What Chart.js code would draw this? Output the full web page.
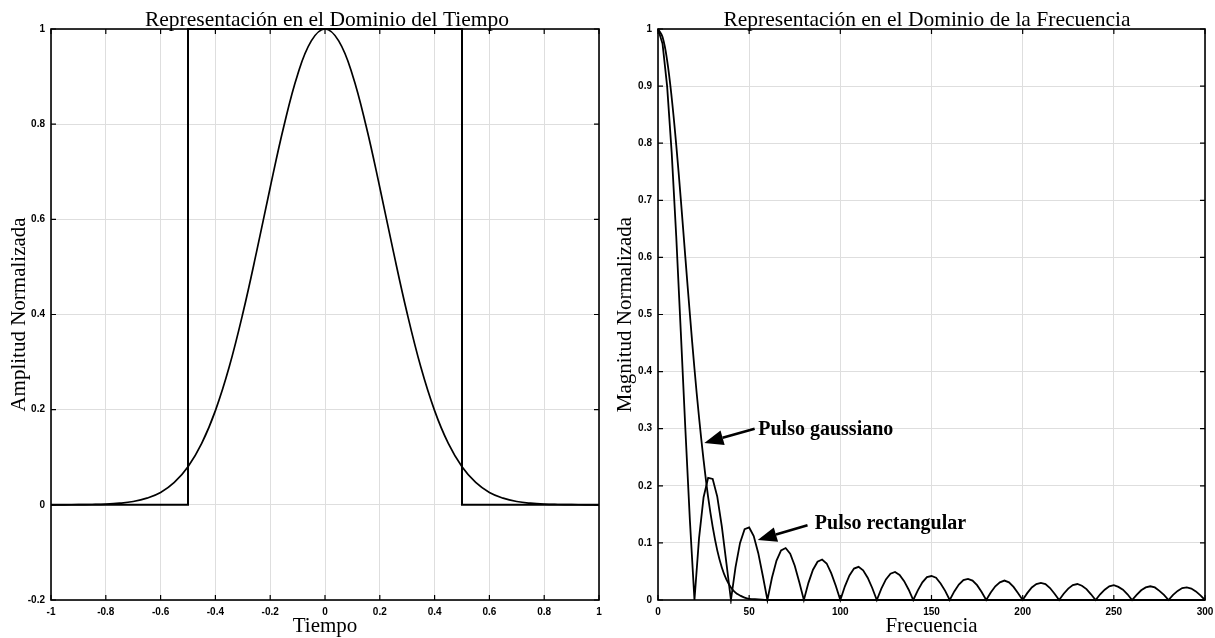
<!DOCTYPE html>
<html>
<head>
<meta charset="utf-8">
<script src="https://cdn.jsdelivr.net/npm/chart.js@4.4.1/dist/chart.umd.min.js"></script>
<style>
  body { margin: 0; background: #fff; width: 1215px; height: 638px; overflow: hidden; position: relative; }
  canvas { position: absolute; top: 0; }
  #tiempo { left: 0; }
  #frecuencia { left: 607px; }
</style>
</head>
<body>
<canvas id="tiempo" width="607" height="638"></canvas>
<canvas id="frecuencia" width="608" height="638"></canvas>
<script>
// Dominio del tiempo
const tRect = [-1, -0.5, -0.5, 0.5, 0.5, 1];
const ampRect = [0, 0, 1, 1, 0, 0];
const tGauss = [-1, -0.95, -0.9, -0.85, -0.8, -0.75, -0.7, -0.65, -0.6, -0.55, -0.5, -0.45, -0.4, -0.35, -0.3, -0.25, -0.2, -0.15, -0.1, -0.05,
  0, 0.05, 0.1, 0.15, 0.2, 0.25, 0.3, 0.35, 0.4, 0.45, 0.5, 0.55, 0.6, 0.65, 0.7, 0.75, 0.8, 0.85, 0.9, 0.95, 1];
const ampGauss = [0, 0.0001, 0.0003, 0.0007, 0.0015, 0.0034, 0.007, 0.014, 0.026, 0.047, 0.08, 0.129, 0.198, 0.289, 0.402, 0.531, 0.667, 0.796, 0.904, 0.975,
  1, 0.975, 0.904, 0.796, 0.667, 0.531, 0.402, 0.289, 0.198, 0.129, 0.08, 0.047, 0.026, 0.014, 0.007, 0.0034, 0.0015, 0.0007, 0.0003, 0.0001, 0];

// Dominio de la frecuencia
const fRect = [0, 2.5, 5, 7.5, 10, 12.5, 15, 17.5, 20, 22.5, 25, 27.5, 30, 32.5, 35, 37.5, 40, 42.5, 45, 47.5, 50, 52.5, 55, 57.5,
  60, 62.5, 65, 67.5, 70, 72.5, 75, 77.5, 80, 82.5, 85, 87.5, 90, 92.5, 95, 97.5, 100, 102.5, 105, 107.5, 110, 112.5, 115, 117.5,
  120, 122.5, 125, 127.5, 130, 132.5, 135, 137.5, 140, 142.5, 145, 147.5, 150, 152.5, 155, 157.5, 160, 162.5, 165, 167.5, 170, 172.5, 175, 177.5,
  180, 182.5, 185, 187.5, 190, 192.5, 195, 197.5, 200, 202.5, 205, 207.5, 210, 212.5, 215, 217.5, 220, 222.5, 225, 227.5, 230, 232.5, 235, 237.5,
  240, 242.5, 245, 247.5, 250, 252.5, 255, 257.5, 260, 262.5, 265, 267.5, 270, 272.5, 275, 277.5, 280, 282.5, 285, 287.5, 290, 292.5, 295, 297.5, 300];
const magRect = [1, 0.974, 0.9, 0.784, 0.637, 0.47, 0.3, 0.139,
  0, 0.108, 0.18, 0.214, 0.212, 0.181, 0.129, 0.065,
  0, 0.057, 0.1, 0.124, 0.127, 0.112, 0.082, 0.042,
  0, 0.039, 0.069, 0.087, 0.091, 0.081, 0.06, 0.031,
  0, 0.03, 0.053, 0.067, 0.071, 0.064, 0.047, 0.025,
  0, 0.024, 0.043, 0.055, 0.058, 0.052, 0.039, 0.021,
  0, 0.02, 0.036, 0.046, 0.049, 0.044, 0.033, 0.018,
  0, 0.017, 0.031, 0.04, 0.042, 0.039, 0.029, 0.016,
  0, 0.015, 0.027, 0.035, 0.037, 0.034, 0.026, 0.014,
  0, 0.013, 0.024, 0.031, 0.034, 0.031, 0.023, 0.012,
  0, 0.012, 0.022, 0.028, 0.03, 0.028, 0.021, 0.011,
  0, 0.011, 0.02, 0.026, 0.028, 0.025, 0.019, 0.01,
  0, 0.01, 0.018, 0.024, 0.026, 0.023, 0.018, 0.01,
  0, 0.009, 0.017, 0.022, 0.024, 0.022, 0.016, 0.009,
  0, 0.009, 0.016, 0.021, 0.022, 0.02, 0.015, 0.008,
  0];
const fGauss = [0, 2.5, 5, 7.5, 10, 12.5, 15, 17.5, 20, 22.5, 25, 27.5, 30, 32.5, 35, 37.5, 40, 42.5, 45, 47.5, 50, 55, 60, 300];
const magGauss = [1, 0.986, 0.945, 0.88, 0.797, 0.702, 0.6, 0.5, 0.405, 0.32, 0.245, 0.18, 0.128, 0.087, 0.057, 0.036, 0.022, 0.013, 0.008, 0.004, 0.002, 0.001, 0, 0];

// Marcas de los ejes
const ticksT = [-1, -0.8, -0.6, -0.4, -0.2, 0, 0.2, 0.4, 0.6, 0.8, 1];
const etiquetasT = ['-1', '-0.8', '-0.6', '-0.4', '-0.2', '0', '0.2', '0.4', '0.6', '0.8', '1'];
const ticksAmp = [-0.2, 0, 0.2, 0.4, 0.6, 0.8, 1];
const etiquetasAmp = ['-0.2', '0', '0.2', '0.4', '0.6', '0.8', '1'];
const ticksF = [0, 50, 100, 150, 200, 250, 300];
const etiquetasF = ['0', '50', '100', '150', '200', '250', '300'];
const ticksMag = [0, 0.1, 0.2, 0.3, 0.4, 0.5, 0.6, 0.7, 0.8, 0.9, 1];
const etiquetasMag = ['0', '0.1', '0.2', '0.3', '0.4', '0.5', '0.6', '0.7', '0.8', '0.9', '1'];

const serif = "'Liberation Serif', 'Times New Roman', serif";
const sans = "'Liberation Sans', Arial, sans-serif";

const puntos = (xs, ys) => xs.map((x, i) => ({ x, y: ys[i] }));

// caja negra con marcas hacia adentro (estilo MATLAB)
const marco = {
  id: 'marco',
  afterDatasetsDraw(chart) {
    const { ctx, chartArea: a, scales: { x, y } } = chart;
    ctx.save();
    ctx.strokeStyle = '#000';
    ctx.lineWidth = 1.2;
    ctx.beginPath();
    x.ticks.forEach(t => {
      const px = x.getPixelForValue(t.value);
      ctx.moveTo(px, a.bottom); ctx.lineTo(px, a.bottom - 5);
      ctx.moveTo(px, a.top); ctx.lineTo(px, a.top + 5);
    });
    y.ticks.forEach(t => {
      const py = y.getPixelForValue(t.value);
      ctx.moveTo(a.left, py); ctx.lineTo(a.left + 5, py);
      ctx.moveTo(a.right, py); ctx.lineTo(a.right - 5, py);
    });
    ctx.stroke();
    ctx.lineWidth = 1.6;
    ctx.strokeRect(a.left, a.top, a.right - a.left, a.bottom - a.top);
    ctx.restore();
  }
};

// titulo y flechas con texto
const rotulos = {
  id: 'rotulos',
  afterDraw(chart, args, opts) {
    const { ctx, scales: { x, y } } = chart;
    ctx.save();
    ctx.fillStyle = '#000';
    ctx.font = '21.5px ' + serif;
    ctx.textAlign = 'center';
    ctx.textBaseline = 'alphabetic';
    ctx.fillText(opts.titulo, opts.tituloX, 26);
    (opts.flechas || []).forEach(f => {
      const x0 = x.getPixelForValue(f.desde[0]), y0 = y.getPixelForValue(f.desde[1]);
      const x1 = x.getPixelForValue(f.hasta[0]), y1 = y.getPixelForValue(f.hasta[1]);
      const ang = Math.atan2(y1 - y0, x1 - x0);
      const largo = 19, ancho = 7.5;
      const bx = x1 - largo * Math.cos(ang), by = y1 - largo * Math.sin(ang);
      ctx.strokeStyle = '#000';
      ctx.lineWidth = 2.6;
      ctx.beginPath(); ctx.moveTo(x0, y0); ctx.lineTo(bx, by); ctx.stroke();
      ctx.beginPath();
      ctx.moveTo(x1, y1);
      ctx.lineTo(bx + ancho * Math.sin(ang), by - ancho * Math.cos(ang));
      ctx.lineTo(bx - ancho * Math.sin(ang), by + ancho * Math.cos(ang));
      ctx.closePath(); ctx.fill();
      ctx.font = 'bold 20px ' + serif;
      ctx.textAlign = 'left';
      ctx.fillText(f.texto, x.getPixelForValue(f.pos[0]), y.getPixelForValue(f.pos[1]));
    });
    ctx.restore();
  }
};

function eje(ticks, etiquetas, min, max, titulo, vertical, tituloPad) {
  return {
    type: 'linear',
    min, max,
    afterBuildTicks: s => { s.ticks = ticks.map(v => ({ value: v })); },
    afterFit: s => {
      if (vertical) {
        s.width = 51;
      } else {
        s.height = 38;
        // sin margen extra por las etiquetas de los extremos
        s.paddingLeft = 0;
        s.paddingRight = 0;
      }
    },
    grid: { color: '#dedede', lineWidth: 1, drawTicks: false },
    border: { display: false },
    ticks: {
      callback: (v, i) => etiquetas[i],
      color: '#000',
      font: { family: sans, size: 10, weight: 'bold' },
      padding: 6,
      maxRotation: 0,
      autoSkip: false
    },
    title: {
      display: true,
      text: titulo,
      color: '#000',
      font: { family: serif, size: 21, lineHeight: 1.1 },
      padding: vertical ? { top: tituloPad, bottom: 0 } : { top: 0, bottom: 0 }
    }
  };
}

function linea(datos, ancho, suave) {
  return {
    data: datos,
    borderColor: '#000',
    borderWidth: ancho,
    pointRadius: 0,
    fill: false,
    tension: suave ? 0.4 : 0,
    clip: 4
  };
}

new Chart(document.querySelector('#tiempo'), {
  type: 'line',
  data: {
    datasets: [
      linea(puntos(tRect, ampRect), 2, false),
      linea(puntos(tGauss, ampGauss), 1.7, true)
    ]
  },
  options: {
    responsive: false,
    animation: false,
    layout: { padding: { left: 0, right: 8, top: 29, bottom: 0 } },
    scales: {
      x: eje(ticksT, etiquetasT, -1, 1, 'Tiempo', false),
      y: eje(ticksAmp, etiquetasAmp, -0.2, 1, 'Amplitud Normalizada', true, 8)
    },
    plugins: {
      legend: { display: false },
      tooltip: { enabled: false },
      rotulos: { titulo: 'Representación en el Dominio del Tiempo', tituloX: 327 }
    }
  },
  plugins: [marco, rotulos]
});

new Chart(document.querySelector('#frecuencia'), {
  type: 'line',
  data: {
    datasets: [
      linea(puntos(fRect, magRect), 1.8, false),
      linea(puntos(fGauss, magGauss), 1.8, true)
    ]
  },
  options: {
    responsive: false,
    animation: false,
    layout: { padding: { left: 0, right: 10, top: 29, bottom: 0 } },
    scales: {
      x: eje(ticksF, etiquetasF, 0, 300, 'Frecuencia', false),
      y: eje(ticksMag, etiquetasMag, 0, 1, 'Magnitud Normalizada', true, 7)
    },
    plugins: {
      legend: { display: false },
      tooltip: { enabled: false },
      rotulos: {
        titulo: 'Representación en el Dominio de la Frecuencia',
        tituloX: 320,
        flechas: [
          { texto: 'Pulso gaussiano', desde: [53, 0.30], hasta: [25.4, 0.275], pos: [55, 0.289] },
          { texto: 'Pulso rectangular', desde: [82, 0.131], hasta: [54.7, 0.105], pos: [86, 0.124] }
        ]
      }
    }
  },
  plugins: [marco, rotulos]
});
</script>
</body>
</html>
